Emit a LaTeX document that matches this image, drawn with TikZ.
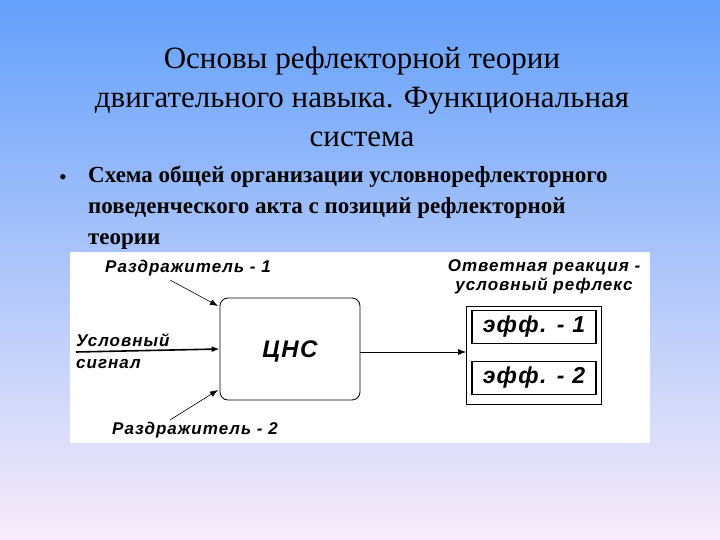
\documentclass[tikz,border=0pt]{standalone}
\usepackage{fontspec}
\setmainfont{Liberation Serif}
\newfontfamily\dsans[LetterSpace=6]{Liberation Sans}
\usetikzlibrary{arrows.meta}
\definecolor{topc}{RGB}{100,160,250}
\definecolor{botc}{RGB}{248,236,250}
\begin{document}
\begin{tikzpicture}[x=1pt,y=-1pt,
  lab/.style={font=\dsans\bfseries\itshape\fontsize{17}{19}\selectfont,inner sep=0},
  ln/.style={draw=black,line width=0.6pt},
  tip/.style={-{Latex[length=8pt,width=6pt]}}]
\shade[top color=topc,bottom color=botc] (0,0) rectangle (720,540);
\useasboundingbox (0,0) rectangle (720,540);
\node[font=\fontsize{31}{39}\selectfont,align=center] (title) at (362,97)
 {Основы рефлекторной теории\\двигательного навыка. Функциональная\\система};
\node[font=\fontsize{22}{24}\selectfont] (bul) at (63,180) {•};
\node[font=\bfseries\fontsize{23}{31}\selectfont,align=left,anchor=north west,inner sep=0] (sub) at (88,166)
 {Схема общей организации условнорефлекторного\\поведенческого акта с позиций рефлекторной\\теории};
\fill[white] (70,252) rectangle (650,443);
\node[draw,rounded corners=8pt,line width=0.8pt,minimum width=140,minimum height=102] (cns) at (290,349) {};
\node[lab,font=\dsans\bfseries\itshape\fontsize{24}{26}\selectfont] (cnst) at (290,352) {ЦНС};
\node[draw,line width=0.8pt,minimum width=135,minimum height=98] (resp) at (534,355) {};
\node[draw,line width=1.6pt,minimum width=124,minimum height=33,lab,font=\dsans\bfseries\itshape\fontsize{23}{25}\selectfont] (e1) at (534,327) {эфф. - 1};
\node[draw,line width=1.6pt,minimum width=124,minimum height=33,lab,font=\dsans\bfseries\itshape\fontsize{23}{25}\selectfont] (e2) at (534,378) {эфф. - 2};
\node[lab] (r1) at (188,268) {Раздражитель - 1};
\node[lab] (r2) at (195,430) {Раздражитель - 2};
\node[lab,anchor=west] (us) at (76,340) {Условный};
\node[lab,anchor=west] (sg) at (76,364) {сигнал};
\node[lab,align=center] (ot) at (544,277) {Ответная реакция -\\условный рефлекс};
\coordinate (s0) at (76,352);
\coordinate (a1) at (170,280);
\coordinate (a2) at (170,420);
\draw[ln,line width=1.6pt,tip] (s0) -- (cns.west);
\draw[ln,tip] (a1) -- (218,306);
\draw[ln,tip] (a2) -- (218,390);
\draw[ln,tip] (cns.east |- 0,352) -- (resp.west |- 0,352);
\end{tikzpicture}
\end{document}
